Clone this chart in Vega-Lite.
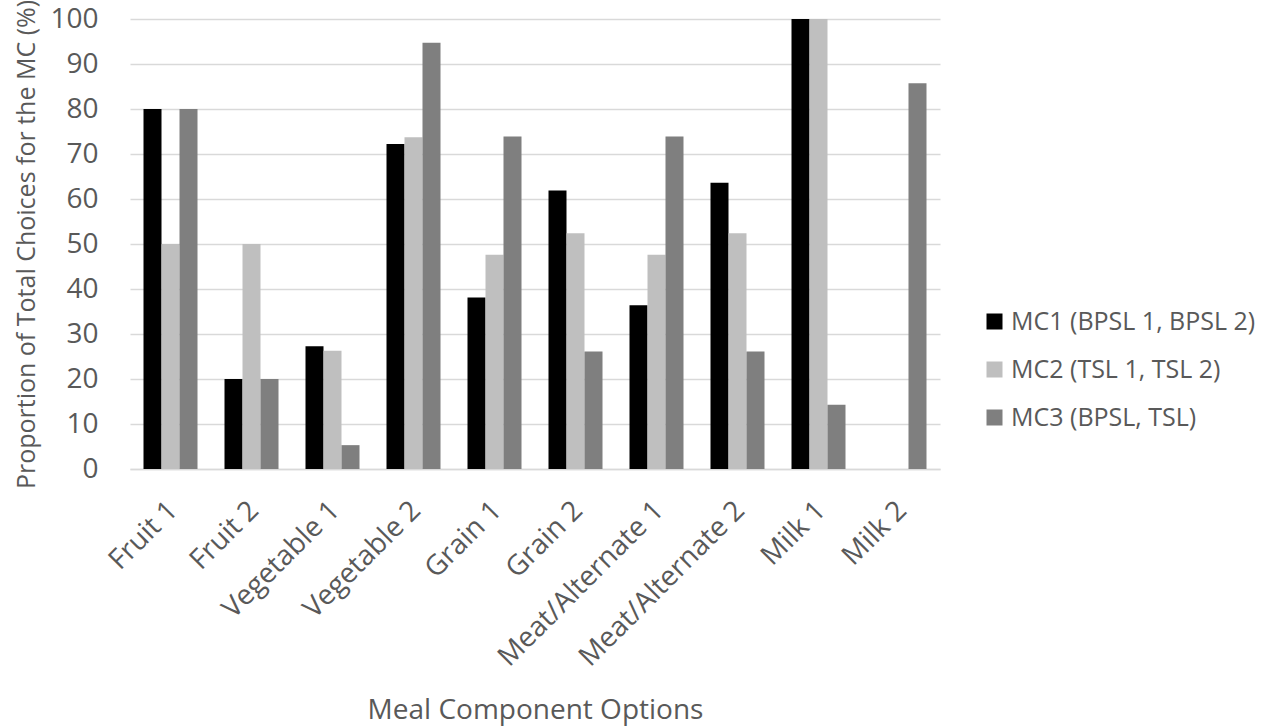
{
  "$schema": "https://vega.github.io/schema/vega-lite/v6.json",
  "autosize": "none",
  "width": 810,
  "height": 450,
  "padding": {"left": 130, "top": 19, "right": 337, "bottom": 259},
  "background": "white",
  "config": {
    "font": "Open Sans",
    "view": {"stroke": null},
    "axis": {"labelColor": "#595959", "titleColor": "#595959", "titleFontWeight": "normal"},
    "legend": {"labelColor": "#595959"}
  },
  "data": {
    "values": [
      {"option": "Fruit 1", "group": "MC1 (BPSL 1, BPSL 2)", "pct": 80},
      {"option": "Fruit 1", "group": "MC2 (TSL 1, TSL 2)", "pct": 50},
      {"option": "Fruit 1", "group": "MC3 (BPSL, TSL)", "pct": 80},
      {"option": "Fruit 2", "group": "MC1 (BPSL 1, BPSL 2)", "pct": 20},
      {"option": "Fruit 2", "group": "MC2 (TSL 1, TSL 2)", "pct": 50},
      {"option": "Fruit 2", "group": "MC3 (BPSL, TSL)", "pct": 20},
      {"option": "Vegetable 1", "group": "MC1 (BPSL 1, BPSL 2)", "pct": 27.3},
      {"option": "Vegetable 1", "group": "MC2 (TSL 1, TSL 2)", "pct": 26.3},
      {"option": "Vegetable 1", "group": "MC3 (BPSL, TSL)", "pct": 5.3},
      {"option": "Vegetable 2", "group": "MC1 (BPSL 1, BPSL 2)", "pct": 72.2},
      {"option": "Vegetable 2", "group": "MC2 (TSL 1, TSL 2)", "pct": 73.7},
      {"option": "Vegetable 2", "group": "MC3 (BPSL, TSL)", "pct": 94.7},
      {"option": "Grain 1", "group": "MC1 (BPSL 1, BPSL 2)", "pct": 38.1},
      {"option": "Grain 1", "group": "MC2 (TSL 1, TSL 2)", "pct": 47.6},
      {"option": "Grain 1", "group": "MC3 (BPSL, TSL)", "pct": 73.9},
      {"option": "Grain 2", "group": "MC1 (BPSL 1, BPSL 2)", "pct": 61.9},
      {"option": "Grain 2", "group": "MC2 (TSL 1, TSL 2)", "pct": 52.4},
      {"option": "Grain 2", "group": "MC3 (BPSL, TSL)", "pct": 26.1},
      {"option": "Meat/Alternate 1", "group": "MC1 (BPSL 1, BPSL 2)", "pct": 36.4},
      {"option": "Meat/Alternate 1", "group": "MC2 (TSL 1, TSL 2)", "pct": 47.6},
      {"option": "Meat/Alternate 1", "group": "MC3 (BPSL, TSL)", "pct": 73.9},
      {"option": "Meat/Alternate 2", "group": "MC1 (BPSL 1, BPSL 2)", "pct": 63.6},
      {"option": "Meat/Alternate 2", "group": "MC2 (TSL 1, TSL 2)", "pct": 52.4},
      {"option": "Meat/Alternate 2", "group": "MC3 (BPSL, TSL)", "pct": 26.1},
      {"option": "Milk 1", "group": "MC1 (BPSL 1, BPSL 2)", "pct": 100},
      {"option": "Milk 1", "group": "MC2 (TSL 1, TSL 2)", "pct": 100},
      {"option": "Milk 1", "group": "MC3 (BPSL, TSL)", "pct": 14.3},
      {"option": "Milk 2", "group": "MC1 (BPSL 1, BPSL 2)", "pct": 0},
      {"option": "Milk 2", "group": "MC2 (TSL 1, TSL 2)", "pct": 0},
      {"option": "Milk 2", "group": "MC3 (BPSL, TSL)", "pct": 85.7}
    ]
  },
  "mark": {"type": "bar"},
  "encoding": {
    "x": {
      "field": "option",
      "type": "nominal",
      "sort": null,
      "scale": {"paddingInner": 0.3333, "paddingOuter": 0.1667},
      "axis": {
        "title": "Meal Component Options",
        "titleFontSize": 28,
        "titleY": 249,
        "titleBaseline": "alphabetic",
        "labelAngle": -45,
        "labelFontSize": 28,
        "labelPadding": 27,
        "labelOffset": -7,
        "labelLimit": 0,
        "ticks": false,
        "domainColor": "#d9d9d9",
        "domainWidth": 1.5,
        "grid": false
      }
    },
    "xOffset": {"field": "group", "type": "nominal", "sort": null, "scale": {"paddingInner": 0, "paddingOuter": 0}},
    "y": {
      "field": "pct",
      "type": "quantitative",
      "scale": {"domain": [0, 100], "nice": false},
      "axis": {
        "title": "Proportion of Total Choices for the MC (%)",
        "titleFontSize": 25,
        "titleLimit": 0,
        "titleX": -104,
        "titleBaseline": "middle",
        "values": [0, 10, 20, 30, 40, 50, 60, 70, 80, 90, 100],
        "labelFontSize": 28,
        "labelPadding": 32,
        "ticks": false,
        "domain": false,
        "gridColor": "#d9d9d9",
        "gridWidth": 1.5
      }
    },
    "color": {
      "field": "group",
      "type": "nominal",
      "sort": null,
      "scale": {
        "domain": ["MC1 (BPSL 1, BPSL 2)", "MC2 (TSL 1, TSL 2)", "MC3 (BPSL, TSL)"],
        "range": ["#000000", "#bfbfbf", "#7f7f7f"]
      },
      "legend": {
        "title": null,
        "orient": "none",
        "legendX": 852,
        "legendY": 290,
        "symbolType": "square",
        "symbolSize": 256,
        "symbolStrokeWidth": 0,
        "labelFontSize": 25,
        "labelOffset": 4,
        "labelLimit": 0,
        "rowPadding": 22
      }
    }
  }
}
